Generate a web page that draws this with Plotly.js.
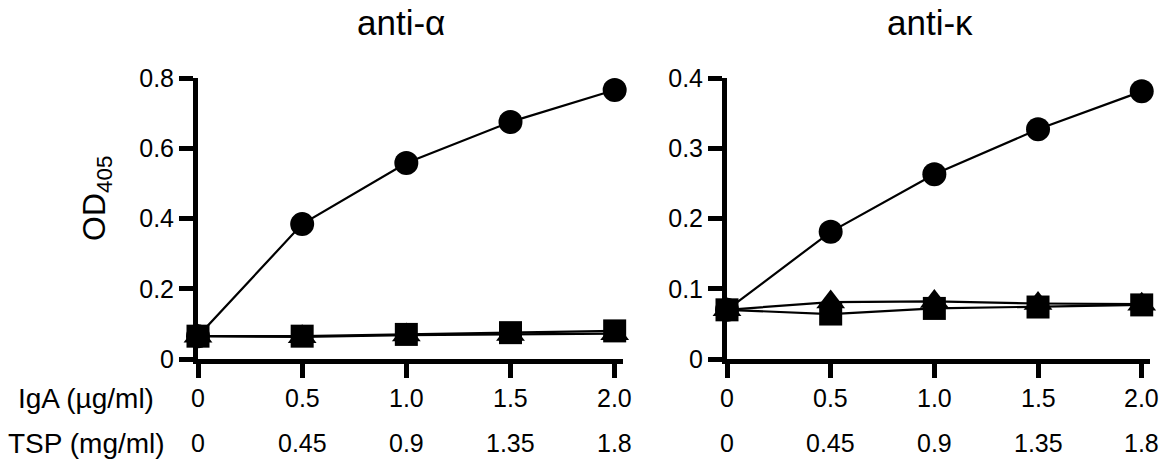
<!DOCTYPE html>
<html>
<head>
<meta charset="utf-8">
<script src="https://cdn.plot.ly/plotly-3.0.1.min.js"></script>
<style>
  html, body { margin: 0; padding: 0; background: #fff; }
  #chart { width: 1164px; height: 463px; }
</style>
</head>
<body>
<div id="chart"></div>
<script>
// ---- data ----
const xVals = [0, 0.5, 1.0, 1.5, 2.0];
const igaLabels = ["0", "0.5", "1.0", "1.5", "2.0"];
const tspLabels = ["0", "0.45", "0.9", "1.35", "1.8"];
const rowHeadings = ["IgA (µg/ml)", "TSP (mg/ml)"];
const panelTitles = ["anti-α", "anti-κ"];

const alphaCircle   = [0.065, 0.384, 0.558, 0.675, 0.766];
const alphaSquare   = [0.065, 0.065, 0.070, 0.075, 0.080];
const alphaTriangle = [0.065, 0.063, 0.068, 0.070, 0.072];

const kappaCircle   = [0.070, 0.181, 0.263, 0.327, 0.381];
const kappaSquare   = [0.070, 0.064, 0.072, 0.074, 0.077];
const kappaTriangle = [0.070, 0.081, 0.082, 0.079, 0.078];

const alphaTicks = [0, 0.2, 0.4, 0.6, 0.8];
const alphaTickText = ["0", "0.2", "0.4", "0.6", "0.8"];
const kappaTicks = [0, 0.1, 0.2, 0.3, 0.4];
const kappaTickText = ["0", "0.1", "0.2", "0.3", "0.4"];

// ---- styling ----
const W = 1164, H = 463;
const FONT = "Liberation Sans, Arial, sans-serif";
const px = v => v / W;
const py = v => 1 - v / H;

function series(y, symbol, size, xa, ya) {
  return {
    x: xVals, y: y, xaxis: xa, yaxis: ya,
    type: "scatter", mode: "lines+markers", cliponaxis: false,
    line: { color: "#000", width: 2.2 },
    marker: { symbol: symbol, size: size, color: "#000" },
    showlegend: false, hoverinfo: "skip"
  };
}

const data = [
  series(alphaCircle, "circle", 24, "x", "y"),
  series(alphaTriangle, "triangle-up", 25, "x", "y"),
  series(alphaSquare, "square", 23, "x", "y"),
  series(kappaCircle, "circle", 24, "x2", "y2"),
  series(kappaTriangle, "triangle-up", 25, "x2", "y2"),
  series(kappaSquare, "square", 23, "x2", "y2")
];

const axisCommon = {
  showline: true, linecolor: "#000", linewidth: 5,
  ticks: "outside", ticklen: 14, tickwidth: 5, tickcolor: "#000",
  showgrid: false, zeroline: false, fixedrange: true,
  tickfont: { family: FONT, size: 25, color: "#000" }
};

const yDom = [py(359), py(78)];

const layout = {
  width: W, height: H,
  margin: { l: 0, r: 0, t: 0, b: 0, pad: 0 },
  paper_bgcolor: "#fff", plot_bgcolor: "#fff",
  font: { family: FONT, color: "#000" },
  xaxis: Object.assign({}, axisCommon, {
    domain: [px(198), px(623)], range: [0, 2.04], anchor: "y",
    tickvals: xVals, showticklabels: false
  }),
  yaxis: Object.assign({}, axisCommon, {
    domain: yDom, range: [0, 0.8], anchor: "x",
    tickvals: alphaTicks, ticktext: alphaTickText
  }),
  xaxis2: Object.assign({}, axisCommon, {
    domain: [px(727), px(1150)], range: [0, 2.04], anchor: "y2",
    tickvals: xVals, showticklabels: false
  }),
  yaxis2: Object.assign({}, axisCommon, {
    domain: yDom, range: [0, 0.4], anchor: "x2",
    tickvals: kappaTicks, ticktext: kappaTickText
  }),
  annotations: []
};

// panel titles
const titleX = [401, 930];
panelTitles.forEach((t, i) => {
  layout.annotations.push({
    xref: "paper", yref: "paper", x: px(titleX[i]), y: py(23),
    xanchor: "center", yanchor: "middle", showarrow: false,
    text: t, font: { family: FONT, size: 35, color: "#000" }
  });
});

// y-axis title
layout.annotations.push({
  xref: "paper", yref: "paper", x: px(96), y: py(199),
  xanchor: "center", yanchor: "middle", showarrow: false, textangle: -90,
  text: "OD<sub>405</sub>", font: { family: FONT, size: 32, color: "#000" }
});

// x rows
["x", "x2"].forEach(xa => {
  xVals.forEach((xv, i) => {
    layout.annotations.push({
      xref: xa, yref: "paper", x: xv, y: py(398),
      xanchor: "center", yanchor: "middle", showarrow: false,
      text: igaLabels[i], font: { family: FONT, size: 25, color: "#000" }
    });
    layout.annotations.push({
      xref: xa, yref: "paper", x: xv, y: py(443),
      xanchor: "center", yanchor: "middle", showarrow: false,
      text: tspLabels[i], font: { family: FONT, size: 25, color: "#000" }
    });
  });
});
rowHeadings.forEach((t, i) => {
  layout.annotations.push({
    xref: "paper", yref: "paper", x: px(86), y: py(i === 0 ? 398 : 443),
    xanchor: "center", yanchor: "middle", showarrow: false,
    text: t, font: { family: FONT, size: 28, color: "#000" }
  });
});

Plotly.newPlot("chart", data, layout, { displayModeBar: false, staticPlot: true });
</script>
</body>
</html>
